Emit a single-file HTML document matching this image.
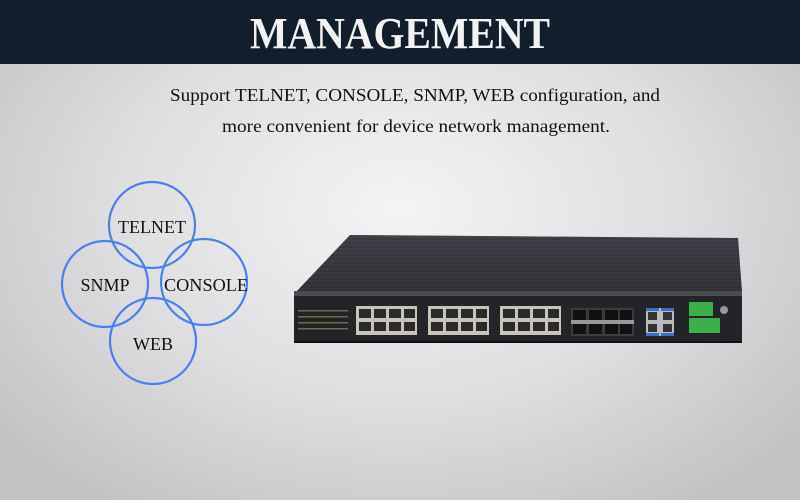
<!DOCTYPE html>
<html><head><meta charset="utf-8"><style>
html,body{margin:0;padding:0}
body{width:800px;height:500px;overflow:hidden;background:radial-gradient(ellipse 520px 360px at 400px 210px,#f4f4f5 0%,#dedee0 55%,#c2c2c5 100%);font-family:"Liberation Serif",serif}
</style></head><body>
<svg width="800" height="500" xmlns="http://www.w3.org/2000/svg" style="position:absolute;left:0;top:0">
<defs>
<linearGradient id="top" x1="0" y1="0" x2="0" y2="1"><stop offset="0" stop-color="#45474e"/><stop offset="1" stop-color="#2e3035"/></linearGradient>
<pattern id="stripes" width="8" height="4" patternUnits="userSpaceOnUse"><rect width="8" height="2" fill="#3a3c42"/><rect y="2" width="8" height="2" fill="#2e3035"/></pattern>
</defs>
<rect x="0" y="0" width="800" height="64" fill="#121e2c"/>
<text x="400" y="48" text-anchor="middle" font-family="Liberation Serif" font-weight="bold" font-size="44" fill="#f2f2f2" textLength="300" lengthAdjust="spacingAndGlyphs">MANAGEMENT</text>
<text x="415" y="101" text-anchor="middle" font-family="Liberation Serif" font-size="18" fill="#111" textLength="490" lengthAdjust="spacingAndGlyphs">Support TELNET, CONSOLE, SNMP, WEB configuration, and</text>
<text x="416" y="132" text-anchor="middle" font-family="Liberation Serif" font-size="18" fill="#111" textLength="388" lengthAdjust="spacingAndGlyphs">more convenient for device network management.</text>

<g fill="none" stroke="#4a7ff0" stroke-width="2.2">
<circle cx="152" cy="225" r="43"/>
<circle cx="105" cy="284" r="43"/>
<circle cx="204" cy="282" r="43"/>
<circle cx="153" cy="341" r="43"/>
</g>
<g font-family="Liberation Serif" font-size="18" fill="#111" text-anchor="middle">
<text x="152" y="233">TELNET</text>
<text x="105" y="291">SNMP</text>
<text x="206" y="291" textLength="84" lengthAdjust="spacingAndGlyphs">CONSOLE</text>
<text x="153" y="350">WEB</text>
</g>

<!-- switch -->
<polygon points="350,235 738,238 742,292 296,292" fill="url(#stripes)"/>
<polygon points="350,235 738,238 742,292 296,292" fill="url(#top)" opacity="0.5"/>
<rect x="294" y="291" width="448" height="6" fill="#4a4c52"/>
<rect x="294" y="296" width="448" height="46" fill="#232428"/>
<rect x="294" y="341" width="448" height="2" fill="#111"/>
<g fill="#8a7a50" opacity="0.8">
<rect x="298" y="310" width="50" height="1.5"/><rect x="298" y="316" width="50" height="1.5"/><rect x="298" y="322" width="50" height="1.5"/><rect x="298" y="328" width="50" height="1.5"/>
</g>
<g fill="#c9c4b8">
<rect x="356" y="306" width="61" height="29"/>
<rect x="428" y="306" width="61" height="29"/>
<rect x="500" y="306" width="61" height="29"/>
</g>
<g fill="#2a2a2a">
<rect x="359" y="309" width="12" height="9"/><rect x="374" y="309" width="12" height="9"/><rect x="389" y="309" width="12" height="9"/><rect x="404" y="309" width="11" height="9"/>
<rect x="359" y="322" width="12" height="9"/><rect x="374" y="322" width="12" height="9"/><rect x="389" y="322" width="12" height="9"/><rect x="404" y="322" width="11" height="9"/>
<rect x="431" y="309" width="12" height="9"/><rect x="446" y="309" width="12" height="9"/><rect x="461" y="309" width="12" height="9"/><rect x="476" y="309" width="11" height="9"/>
<rect x="431" y="322" width="12" height="9"/><rect x="446" y="322" width="12" height="9"/><rect x="461" y="322" width="12" height="9"/><rect x="476" y="322" width="11" height="9"/>
<rect x="503" y="309" width="12" height="9"/><rect x="518" y="309" width="12" height="9"/><rect x="533" y="309" width="12" height="9"/><rect x="548" y="309" width="11" height="9"/>
<rect x="503" y="322" width="12" height="9"/><rect x="518" y="322" width="12" height="9"/><rect x="533" y="322" width="12" height="9"/><rect x="548" y="322" width="11" height="9"/>
</g>
<rect x="571" y="308" width="63" height="28" fill="#3a3b3f"/>
<g fill="#111"><rect x="573" y="310" width="13" height="10"/><rect x="589" y="310" width="13" height="10"/><rect x="605" y="310" width="13" height="10"/><rect x="620" y="310" width="12" height="10"/>
<rect x="573" y="324" width="13" height="10"/><rect x="589" y="324" width="13" height="10"/><rect x="605" y="324" width="13" height="10"/><rect x="620" y="324" width="12" height="10"/></g>
<rect x="571" y="320" width="63" height="4" fill="#9a9a9a"/>
<rect x="646" y="308" width="28" height="28" fill="#bbb"/>
<g fill="#3a6fd0"><rect x="646" y="308" width="13" height="3"/><rect x="661" y="308" width="13" height="3"/><rect x="646" y="333" width="13" height="3"/><rect x="661" y="333" width="13" height="3"/></g>
<g fill="#333"><rect x="648" y="312" width="9" height="8"/><rect x="663" y="312" width="9" height="8"/><rect x="648" y="324" width="9" height="8"/><rect x="663" y="324" width="9" height="8"/></g>
<rect x="689" y="302" width="24" height="14" fill="#3bb04a"/>
<rect x="689" y="318" width="31" height="15" fill="#3bb04a"/>
<circle cx="724" cy="310" r="4" fill="#9a9a9a"/>
</svg>
</body></html>
